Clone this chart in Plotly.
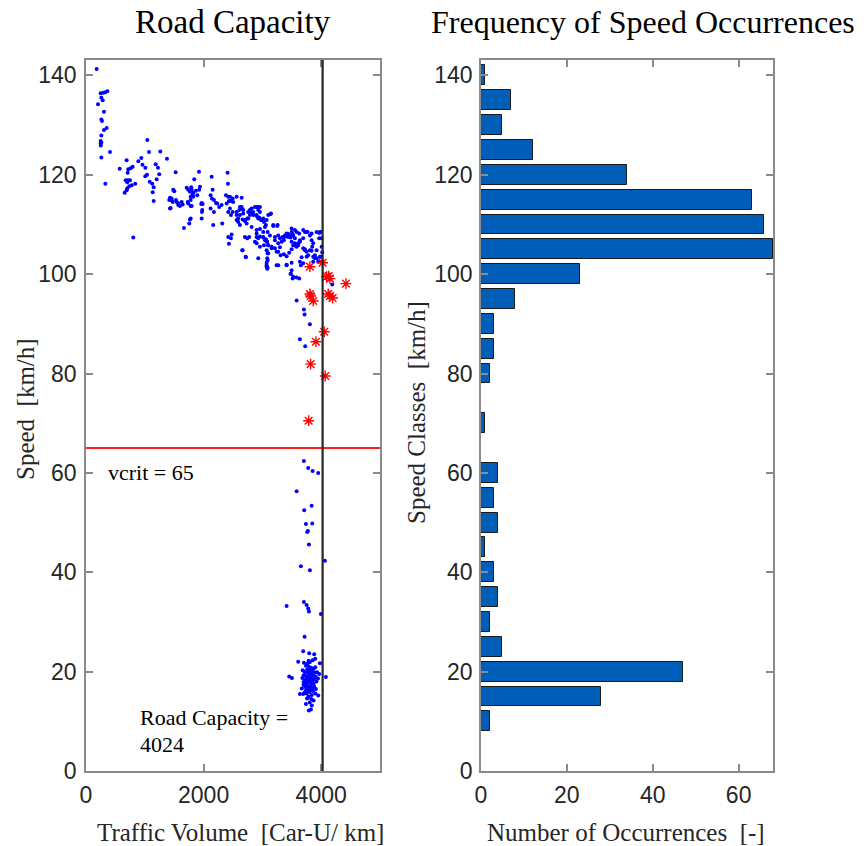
import plotly.graph_objects as go

# ---------------- data ----------------
# Road capacity scatter: (traffic volume [Car-U/km], speed [km/h])
free_flow_low_volume = [
    (181, 141.3), (249, 136.4), (294, 136.5), (329, 136.6), (363, 136.8), (261, 135.5), (284, 135.0),
    (204, 134.2), (306, 132.7), (261, 131.1), (272, 130.8), (306, 129.0), (351, 129.4), (261, 127.9),
    (249, 126.8), (249, 126.3), (252, 125.9), (262, 126.5), (408, 124.6), (261, 123.5), (329, 118.2),
]

free_flow_mid_volume = [
    (573, 121.2), (691, 122.9), (794, 121.6), (760, 121.3), (719, 121.1), (709, 120.4), (675, 118.9),
    (714, 118.9), (748, 118.9), (702, 118.5), (736, 117.7), (702, 117.3), (692, 116.9), (658, 116.4),
    (777, 117.9), (838, 118.2), (804, 107.4),
    (890, 122.7), (941, 123.4), (960, 122.0), (1010, 121.4), (1043, 127.0), (1071, 124.6), (1008, 119.7),
    (1037, 120.0), (1083, 118.6), (1127, 118.2), (1151, 117.5), (1134, 116.5), (1151, 114.7), (1202, 119.1),
    (1185, 122.1), (1224, 121.4), (1246, 120.1), (1264, 124.7), (1377, 123.2),
    (1525, 120.5), (1484, 117.0), (1501, 116.7), (1428, 115.4), (1450, 114.9), (1474, 114.5), (1530, 114.9),
    (1416, 114.9), (1457, 115.2), (1542, 114.5), (1564, 114.3), (1569, 113.9), (1598, 113.7), (1627, 114.5),
    (1644, 114.0), (1428, 113.2), (1440, 113.3),
    (1712, 117.4), (1739, 117.0), (1790, 117.5), (1768, 116.6), (1797, 117.0), (1814, 116.0), (1824, 116.4),
    (1870, 116.8), (1892, 115.9), (1926, 117.0), (1780, 115.6), (1938, 117.6), (1841, 119.1), (1921, 120.6),
    (1729, 114.5), (1739, 114.2), (1780, 114.9), (1780, 113.7), (1797, 113.7), (1824, 115.6), (1960, 114.1),
    (1967, 114.3), (1984, 114.1), (1977, 112.9), (1972, 112.5), (1967, 111.2), (1780, 111.2), (1768, 111.0),
    (1756, 110.2), (1666, 109.3),
]

free_flow_high_volume = [
    (2136, 119.6), (2408, 120.4), (2414, 118.2), (2153, 117.0),
    (2119, 115.9), (2142, 115.2), (2176, 114.9), (2210, 114.3), (2119, 113.2), (2176, 112.5),
    (2232, 114.2), (2266, 113.5), (2307, 113.9),
    (2380, 115.9), (2419, 115.6), (2460, 114.7), (2494, 115.2), (2562, 115.6), (2647, 115.4), (2448, 115.6),
    (2431, 114.7), (2504, 114.5), (2164, 109.9), (2317, 110.2),
    (2392, 114.2), (2448, 113.2), (2494, 112.5), (2419, 112.5), (2465, 111.9), (2562, 112.5), (2618, 111.9),
    (2589, 111.2), (2562, 111.9), (2606, 112.9), (2647, 113.5), (2674, 112.2), (2618, 113.5), (2647, 113.2),
    (2674, 112.9), (2562, 110.9), (2589, 110.5), (2618, 109.9), (2664, 111.0), (2703, 110.7), (2742, 111.2),
    (2703, 110.9), (2732, 110.2), (2759, 111.2), (2788, 111.9),
    (2759, 112.5), (2788, 112.9), (2817, 112.3), (2844, 111.9), (2873, 113.5), (2929, 113.5), (2958, 112.5),
    (2817, 113.2), (2844, 112.5), (2902, 113.5), (2929, 112.9), (2958, 113.5),
    (2902, 111.7), (2946, 111.4), (2987, 110.9), (3026, 110.5), (3060, 109.9), (2902, 111.9), (2929, 111.2),
    (2975, 110.9), (3014, 111.2), (3072, 110.9), (3099, 111.9), (3145, 112.2),
    (2817, 109.5), (2902, 108.9), (2958, 109.1), (3014, 108.5), (3043, 109.5), (3089, 108.5), (3128, 107.8),
    (3140, 112.1), (3184, 109.7), (3252, 109.7), (3184, 109.9), (3259, 109.9),
    (2419, 107.5), (2477, 108.0), (2465, 107.2), (2431, 106.1),
    (2703, 107.5), (2742, 107.2), (2776, 107.5),
    (2902, 108.2), (2958, 107.6), (3014, 107.4), (3060, 107.0), (3082, 106.5), (2902, 107.5), (2929, 107.2),
    (3014, 107.5), (3043, 106.8), (3072, 106.5), (3099, 105.8), (3157, 105.5), (3213, 105.2), (3242, 104.5),
    (2664, 104.8), (2720, 103.4), (2929, 103.2), (2657, 104.8), (2715, 103.5),
    (2873, 106.5), (2902, 106.2), (2958, 105.5), (3026, 105.8), (3099, 105.8), (3157, 105.2),
    (3072, 104.8), (3099, 104.2), (3082, 103.2), (3072, 102.3), (3072, 101.5), (3082, 101.1), (3089, 104.2),
    (3089, 102.8), (3072, 101.8), (3089, 101.3),
    (3213, 106.8), (3269, 106.2), (3298, 105.4), (3344, 107.5), (3366, 106.8), (3400, 107.6), (3439, 108.1),
    (3480, 107.4), (3514, 108.1), (3553, 108.9), (3497, 109.2), (3582, 108.5), (3626, 108.2),
    (3213, 107.5), (3269, 107.8), (3298, 107.2), (3327, 106.5), (3354, 107.3), (3383, 107.8), (3412, 108.2),
    (3439, 107.5), (3468, 107.8), (3497, 108.5), (3524, 107.8), (3553, 107.2), (3497, 106.5), (3553, 106.2),
    (3582, 105.5), (3609, 105.8), (3638, 106.5), (3694, 107.2), (3723, 108.5), (3769, 108.5), (3808, 107.8),
    (3837, 106.8),
    (3269, 104.5), (3310, 103.8), (3366, 104.0), (3412, 103.6), (3456, 104.3), (3497, 105.0), (3524, 105.8),
    (3570, 105.6), (3609, 106.2), (3638, 106.8), (3694, 108.9), (3752, 108.5), (3837, 108.2), (3922, 108.5),
    (3966, 108.3),
    (3694, 105.2), (3723, 104.8), (3752, 104.5), (3808, 104.8), (3847, 105.5), (3893, 103.8), (3922, 103.2),
    (3864, 102.5), (3949, 102.5), (3978, 103.5), (3995, 108.5), (4007, 107.2), (4007, 105.5), (4017, 104.4),
    (3242, 101.8), (3412, 101.8), (3497, 102.3), (3638, 102.5), (3667, 103.4), (3723, 105.0), (3779, 103.8),
    (3837, 104.7), (3864, 106.2), (3922, 104.8), (3966, 107.2),
    (3497, 100.8), (3524, 99.5), (3626, 99.1), (3864, 103.5), (3893, 103.2), (3808, 101.5),
    (3269, 101.8), (3412, 101.9), (3485, 100.1), (3655, 101.8), (3582, 99.3), (3694, 102.2), (3752, 103.5),
    (3479, 100.1), (3514, 99.1), (3978, 108.5), (3990, 103.5), (4007, 102.5), (4188, 97.9),
    (3582, 94.7), (3706, 92.9), (3717, 91.9), (3808, 89.9), (3638, 86.9), (3728, 85.5),
]

congested_points = [
    (3706, 62.4), (3779, 61.0), (3854, 60.4), (3949, 60.0), (3582, 56.3), (3837, 53.4), (3711, 52.5),
    (3740, 49.7), (3848, 49.8), (3762, 48.1), (3774, 48.3), (3791, 45.6), (4063, 42.3), (3655, 41.2),
    (3808, 40.4), (3412, 33.2), (3706, 34.0), (3752, 33.4), (3779, 32.7), (3791, 32.1), (3995, 31.6),
    (3717, 27.0), (3694, 24.1), (3796, 23.7), (3881, 23.5), (3898, 22.6),
    (3609, 22.0), (3706, 21.8), (3854, 22.3), (3978, 21.7), (3456, 19.0), (3502, 18.7), (4080, 18.9),
    (3966, 19.5), (3740, 21.2), (3790, 21.0), (3830, 20.8), (3870, 20.6), (3760, 20.4), (3800, 20.2),
    (3845, 20.0), (3720, 19.9), (3890, 19.8), (3775, 19.7), (3815, 19.5), (3860, 19.3), (3700, 19.2),
    (3745, 19.1), (3905, 19.0), (3790, 18.9), (3835, 18.8), (3680, 18.7), (3760, 18.6), (3880, 18.5),
    (3725, 18.4), (3810, 18.3), (3850, 18.2), (3770, 18.1), (3920, 18.0), (3700, 17.9), (3795, 17.8),
    (3840, 17.7), (3745, 17.6), (3870, 17.6), (3820, 20.6), (3765, 21.6), (3900, 20.9), (3685, 20.3),
    (3930, 19.9), (3805, 21.9), (3725, 17.8), (3785, 22.2), (3945, 18.6),
    (3949, 15.2), (3830, 14.5), (3638, 15.5), (3694, 15.5), (3752, 15.6), (3900, 15.6),
    (3700, 17.3), (3760, 17.2), (3820, 17.1), (3880, 17.0), (3730, 16.9), (3790, 16.8), (3850, 16.7),
    (3670, 16.6), (3910, 16.5), (3775, 16.4), (3815, 16.3), (3740, 16.2), (3860, 16.1), (3800, 15.9),
    (3720, 15.8), (3840, 15.3), (3785, 15.0), (3760, 14.6), (3870, 14.2), (3805, 13.8), (3740, 13.5),
    (3840, 13.2), (3825, 12.4), (3790, 12.2),
]

# capacity-range measurements (red stars)
capacity_points = [
    (3808, 101.5), (4024, 102.3), (4092, 99.5), (4148, 99.1), (4126, 99.6), (4420, 98.1), (3808, 96.0),
    (3820, 95.6), (3864, 94.6), (4119, 96.0), (4148, 95.6), (4194, 95.2), (4051, 88.4), (3910, 86.4),
    (3820, 81.9), (4068, 79.5), (3786, 70.5),
]

v_crit = 65
road_capacity = 4024

# Histogram of speed classes
speed_classes = [10, 15, 20, 25, 30, 35, 40, 45, 50, 55, 60, 65, 70, 75,
                 80, 85, 90, 95, 100, 105, 110, 115, 120, 125, 130, 135, 140]
occurrences = [2, 28, 47, 5, 2, 4, 3, 1, 4, 3, 4, 0, 1, 0,
               2, 3, 3, 8, 23, 68, 66, 63, 34, 12, 5, 7, 1]

x_ticks_left = [0, 2000, 4000]
x_ticks_right = [0, 20, 40, 60]
y_ticks = [0, 20, 40, 60, 80, 100, 120, 140]

# ---------------- figure ----------------
W, H = 868, 846
L_X0, L_X1 = 86, 380
R_X0, R_X1 = 481, 773
Y_TOP, Y_BOT = 60, 771
Y_MAX = 143.1

blue_pts = free_flow_low_volume + free_flow_mid_volume + free_flow_high_volume + congested_points

fig = go.Figure()
fig.add_trace(go.Scatter(
    x=[p[0] for p in blue_pts], y=[p[1] for p in blue_pts],
    mode="markers", marker=dict(color="#0000FF", size=4, line=dict(width=0)),
    xaxis="x", yaxis="y", showlegend=False, hoverinfo="skip"))
fig.add_trace(go.Scatter(
    x=[p[0] for p in capacity_points], y=[p[1] for p in capacity_points],
    mode="markers", marker=dict(symbol="asterisk-open", color="#FF0000", size=9,
                                line=dict(color="#FF1A1A", width=1.4)),
    xaxis="x", yaxis="y", showlegend=False, hoverinfo="skip"))

fig.add_trace(go.Bar(
    y=speed_classes, x=occurrences, orientation="h", width=4,
    marker=dict(color="#005EB8", line=dict(color="#1a1a1a", width=1)),
    xaxis="x2", yaxis="y2", showlegend=False, hoverinfo="skip"))

tick_font = dict(family="Liberation Sans, Arial, sans-serif", size=23, color="#262626")
serif = "Liberation Serif, Times New Roman, serif"
axis_common = dict(showline=True, linecolor="#8a8a8a", linewidth=1.5, mirror="allticks",
                   ticks="inside", ticklen=7, tickcolor="#8a8a8a", tickwidth=1.5,
                   showgrid=False, zeroline=False, tickfont=tick_font, automargin=False)

ydom = [1 - Y_BOT / H, 1 - Y_TOP / H]
fig.update_layout(
    template="none",
    width=W, height=H, margin=dict(l=0, r=0, t=0, b=0, autoexpand=False),
    paper_bgcolor="white", plot_bgcolor="white",
    bargap=0,
    xaxis=dict(domain=[L_X0 / W, L_X1 / W], range=[0, 5000], tickvals=x_ticks_left,
               anchor="y", ticklabelstandoff=3, **axis_common),
    yaxis=dict(domain=ydom, range=[0, Y_MAX], tickvals=y_ticks, anchor="x",
               ticklabelstandoff=3, **axis_common),
    xaxis2=dict(domain=[R_X0 / W, R_X1 / W], range=[0, 68], tickvals=x_ticks_right,
                anchor="y2", ticklabelstandoff=3, **axis_common),
    yaxis2=dict(domain=ydom, range=[0, Y_MAX], tickvals=y_ticks, anchor="x2",
                ticklabelstandoff=2, **axis_common),
    shapes=[
        dict(type="line", xref="x", yref="y", x0=0, x1=5000, y0=v_crit, y1=v_crit,
             line=dict(color="#FF2020", width=2)),
        dict(type="line", xref="x", yref="y", x0=road_capacity, x1=road_capacity, y0=0, y1=Y_MAX,
             line=dict(color="#262626", width=2.2)),
    ],
)

ann = []
ann.append(dict(text="Road Capacity", x=(L_X0 + L_X1) / 2 / W, y=1 - 22 / H, xref="paper", yref="paper",
                showarrow=False, font=dict(family=serif, size=33, color="#000000"),
                xanchor="center", yanchor="middle"))
ann.append(dict(text="Frequency of Speed Occurrences", x=643 / W, y=1 - 22 / H, xref="paper", yref="paper",
                showarrow=False, font=dict(family=serif, size=32, color="#000000"),
                xanchor="center", yanchor="middle"))
ann.append(dict(text="Traffic Volume  [Car-U/ km]", x=240 / W, y=1 - 832 / H, xref="paper", yref="paper",
                showarrow=False, font=dict(family=serif, size=25, color="#262626"),
                xanchor="center", yanchor="middle"))
ann.append(dict(text="Number of Occurrences  [-]", x=626 / W, y=1 - 832 / H, xref="paper", yref="paper",
                showarrow=False, font=dict(family=serif, size=25, color="#262626"),
                xanchor="center", yanchor="middle"))
ann.append(dict(text="Speed  [km/h]", x=25 / W, y=1 - 409 / H, xref="paper", yref="paper",
                showarrow=False, textangle=-90, font=dict(family=serif, size=25, color="#262626"),
                xanchor="center", yanchor="middle"))
ann.append(dict(text="Speed Classes  [km/h]", x=416 / W, y=1 - 413 / H, xref="paper", yref="paper",
                showarrow=False, textangle=-90, font=dict(family=serif, size=25, color="#262626"),
                xanchor="center", yanchor="middle"))
ann.append(dict(text=f"vcrit = {v_crit}", x=340, y=60.0, xref="x", yref="y", showarrow=False,
                font=dict(family=serif, size=22, color="#000000"), xanchor="left", yanchor="middle"))
ann.append(dict(text="Road Capacity =", x=884, y=10.7, xref="x", yref="y", showarrow=False,
                font=dict(family=serif, size=22, color="#000000"), xanchor="left", yanchor="middle"))
ann.append(dict(text=f"{road_capacity}", x=884, y=5.4, xref="x", yref="y", showarrow=False,
                font=dict(family=serif, size=22, color="#000000"), xanchor="left", yanchor="middle"))
fig.update_layout(annotations=ann)

fig.write_html("out.html")
